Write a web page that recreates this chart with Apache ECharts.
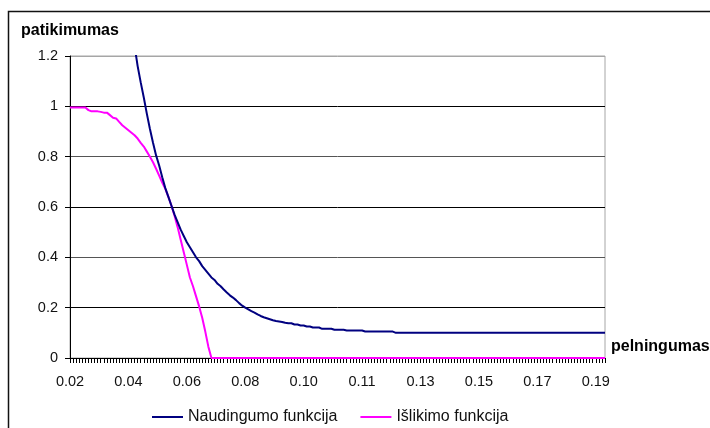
<!DOCTYPE html>
<html>
<head>
<meta charset="utf-8">
<title>patikimumas / pelningumas</title>
<script src="https://cdn.jsdelivr.net/npm/echarts@6/dist/echarts.min.js"></script>
<style>
  html, body { margin: 0; padding: 0; background: #fff; }
  #chart { width: 710px; height: 428px; }
</style>
</head>
<body>
<div id="chart"></div>
<script>
// Pelningumo reikšmės (kategorijų ašis), žingsnis 0.001
const categories = [
  '0.020','0.021','0.022','0.023','0.024','0.025','0.026','0.027','0.028','0.029',
  '0.030','0.031','0.032','0.033','0.034','0.035','0.036','0.037','0.038','0.039',
  '0.040','0.041','0.042','0.043','0.044','0.045','0.046','0.047','0.048','0.049',
  '0.050','0.051','0.052','0.053','0.054','0.055','0.056','0.057','0.058','0.059',
  '0.060','0.061','0.062','0.063','0.064','0.065','0.066','0.067','0.068','0.069',
  '0.070','0.071','0.072','0.073','0.074','0.075','0.076','0.077','0.078','0.079',
  '0.080','0.081','0.082','0.083','0.084','0.085','0.086','0.087','0.088','0.089',
  '0.090','0.091','0.092','0.093','0.094','0.095','0.096','0.097','0.098','0.099',
  '0.100','0.101','0.102','0.103','0.104','0.105','0.106','0.107','0.108','0.109',
  '0.110','0.111','0.112','0.113','0.114','0.115','0.116','0.117','0.118','0.119',
  '0.120','0.121','0.122','0.123','0.124','0.125','0.126','0.127','0.128','0.129',
  '0.130','0.131','0.132','0.133','0.134','0.135','0.136','0.137','0.138','0.139',
  '0.140','0.141','0.142','0.143','0.144','0.145','0.146','0.147','0.148','0.149',
  '0.150','0.151','0.152','0.153','0.154','0.155','0.156','0.157','0.158','0.159',
  '0.160','0.161','0.162','0.163','0.164','0.165','0.166','0.167','0.168','0.169',
  '0.170','0.171','0.172','0.173','0.174','0.175','0.176','0.177','0.178','0.179',
  '0.180','0.181','0.182','0.183','0.184','0.185','0.186','0.187','0.188','0.189',
  '0.190','0.191','0.192','0.193','0.194'
];

// Kas 19-a kategorija pažymėta ašyje
const xTickLabels = ['0.02','0.04','0.06','0.08','0.10','0.11','0.13','0.15','0.17','0.19'];
const xLabelStep = 19;

// Naudingumo funkcija (reikšmės virš 1.2 nukerpamos ašies ribose)
const naudingumo = [
  null,null,null,null,null,null,null,null,null,null,
  null,null,null,null,null,null,null,null,null,null,
  null,1.24,1.16,1.095,1.035,0.97,0.91,0.855,0.805,0.765,
  0.718,0.675,0.64,0.605,0.57,0.54,0.51,0.485,0.46,0.44,
  0.42,0.40,0.385,0.365,0.35,0.335,0.32,0.31,0.295,0.285,
  0.272,0.26,0.249,0.24,0.23,0.218,0.208,0.2,0.193,0.186,
  0.18,0.173,0.167,0.162,0.158,0.154,0.15,0.147,0.145,0.143,
  0.14,0.138,0.138,0.133,0.133,0.129,0.129,0.125,0.125,0.121,
  0.121,0.121,0.116,0.116,0.116,0.116,0.112,0.112,0.112,0.112,
  0.109,0.109,0.109,0.109,0.109,0.109,0.105,0.105,0.105,0.105,
  0.105,0.105,0.105,0.105,0.105,0.105,0.1,0.1,0.1,0.1,
  0.1,0.1,0.1,0.1,0.1,0.1,0.1,0.1,0.1,0.1,
  0.1,0.1,0.1,0.1,0.1,0.1,0.1,0.1,0.1,0.1,
  0.1,0.1,0.1,0.1,0.1,0.1,0.1,0.1,0.1,0.1,
  0.1,0.1,0.1,0.1,0.1,0.1,0.1,0.1,0.1,0.1,
  0.1,0.1,0.1,0.1,0.1,0.1,0.1,0.1,0.1,0.1,
  0.1,0.1,0.1,0.1,0.1,0.1,0.1,0.1,0.1,0.1,
  0.1,0.1,0.1,0.1,0.1
];

// Išlikimo funkcija
const islikimo = [
  0.995,0.995,0.995,0.995,0.995,0.995,0.985,0.98,0.98,0.98,
  0.978,0.975,0.975,0.965,0.955,0.952,0.938,0.925,0.915,0.905,
  0.895,0.885,0.872,0.855,0.84,0.82,0.8,0.778,0.752,0.725,
  0.697,0.672,0.64,0.605,0.565,0.52,0.47,0.42,0.37,0.32,
  0.285,0.245,0.205,0.16,0.105,0.045,0,0,0,0,
  0,0,0,0,0,0,0,0,0,0,
  0,0,0,0,0,0,0,0,0,0,
  0,0,0,0,0,0,0,0,0,0,
  0,0,0,0,0,0,0,0,0,0,
  0,0,0,0,0,0,0,0,0,0,
  0,0,0,0,0,0,0,0,0,0,
  0,0,0,0,0,0,0,0,0,0,
  0,0,0,0,0,0,0,0,0,0,
  0,0,0,0,0,0,0,0,0,0,
  0,0,0,0,0,0,0,0,0,0,
  0,0,0,0,0,0,0,0,0,0,
  0,0,0,0,0,0,0,0,0,0,
  0,0,0,0,0
];

const yTicks = { min: 0, max: 1.2, interval: 0.2 };

const FONT = "'Liberation Sans', Arial, sans-serif";

const chart = echarts.init(document.getElementById('chart'), null, { renderer: 'canvas' });

chart.setOption({
  animation: false,
  backgroundColor: '#fff',
  textStyle: { fontFamily: FONT },
  graphic: [{
    type: 'rect',
    z: -10,
    silent: true,
    shape: { x: 8.5, y: 11.5, width: 900, height: 600 },
    style: { fill: 'none', stroke: '#111', lineWidth: 1.5 }
  }],
  grid: {
    left: 70, right: 105, top: 56, bottom: 70,
    show: true,
    borderColor: '#a6a6a6',
    borderWidth: 1,
    outerBoundsMode: 'none'
  },
  legend: {
    left: 147,
    top: 404,
    icon: 'rect',
    itemWidth: 31,
    itemHeight: 2,
    itemGap: 23,
    textStyle: { fontFamily: FONT, fontSize: 16, color: '#111' },
    data: ['Naudingumo funkcija', 'Išlikimo funkcija']
  },
  xAxis: {
    type: 'category',
    data: categories,
    boundaryGap: false,
    name: 'pelningumas',
    nameLocation: 'end',
    nameGap: 6,
    nameTextStyle: {
      fontFamily: FONT, fontSize: 16, fontWeight: 'bold', color: '#000',
      align: 'left', verticalAlign: 'bottom', padding: [0, 0, 3, 0]
    },
    axisLine: { show: true, onZero: false, lineStyle: { color: '#000', width: 1 } },
    axisTick: { show: true, interval: 0, length: 5, inside: false, lineStyle: { color: '#000', width: 1 } },
    axisLabel: {
      interval: xLabelStep - 1,
      margin: 16,
      fontFamily: FONT, fontSize: 14.5, color: '#111',
      formatter: function (value, index) {
        return xTickLabels[Math.round(index / xLabelStep)];
      }
    },
    splitLine: { show: false }
  },
  yAxis: {
    type: 'value',
    min: yTicks.min,
    max: yTicks.max,
    interval: yTicks.interval,
    name: 'patikimumas',
    nameLocation: 'end',
    nameGap: 17,
    nameTextStyle: {
      fontFamily: FONT, fontSize: 16, fontWeight: 'bold', color: '#000',
      align: 'center', verticalAlign: 'bottom'
    },
    axisLine: { show: true, lineStyle: { color: '#000', width: 1 } },
    axisTick: { show: true, length: 5, inside: false, lineStyle: { color: '#000', width: 1 } },
    axisLabel: {
      margin: 12,
      fontFamily: FONT, fontSize: 14.5, color: '#111',
      formatter: function (v) { return String(Math.round(v * 10) / 10); }
    },
    splitLine: {
      show: true,
      lineStyle: { color: ['#000', '#000', '#555', '#000', '#555', '#000', '#a6a6a6'], width: 1 }
    }
  },
  series: [
    {
      name: 'Naudingumo funkcija',
      type: 'line',
      data: naudingumo,
      showSymbol: false,
      symbol: 'none',
      clip: true,
      color: '#000080',
      lineStyle: { color: '#000080', width: 2 },
      z: 3
    },
    {
      name: 'Išlikimo funkcija',
      type: 'line',
      data: islikimo,
      showSymbol: false,
      symbol: 'none',
      clip: true,
      color: '#ff00ff',
      lineStyle: { color: '#ff00ff', width: 2 },
      z: 2
    }
  ]
});
</script>
</body>
</html>
